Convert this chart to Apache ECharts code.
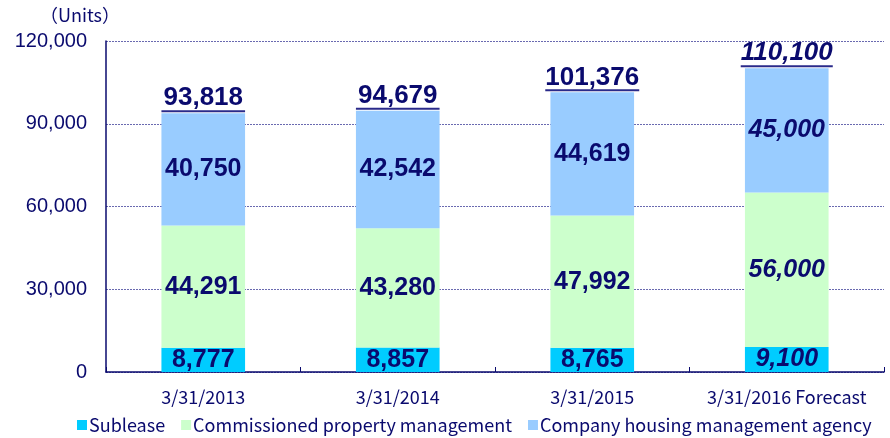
<!DOCTYPE html>
<html><head><meta charset="utf-8">
<script src="https://cdn.jsdelivr.net/npm/echarts@6/dist/echarts.min.js"></script>
<style>html,body{margin:0;padding:0;background:#fff}#c{width:890px;height:438px}</style>
</head><body><div id="c"></div>
<script>
const categories = ['3/31/2013', '3/31/2014', '3/31/2015', '3/31/2016 Forecast'];
const sublease = [8777, 8857, 8765, 9100];
const commissioned = [44291, 43280, 47992, 56000];
const company = [40750, 42542, 44619, 45000];
const totals = [93818, 94679, 101376, 110100];
const forecastIndex = 3;
const seriesNames = ['Sublease', 'Commissioned property management', 'Company housing management agency'];

const navy = '#0a0a6e';
const fmt = v => v.toLocaleString('en-US');
const chart = echarts.init(document.getElementById('c'));
const measureCtx = document.createElement('canvas').getContext('2d');
const jp = '"Noto Sans CJK JP", sans-serif';

function seg(name, data, color) {
  return {
    name, type: 'bar', stack: 'a', barWidth: '43%',
    itemStyle: { color },
    data: data.map((v, i) => ({
      value: v,
      label: { fontStyle: i === forecastIndex ? 'italic' : 'normal' }
    })),
    label: {
      show: true, position: 'inside', color: navy, fontSize: 25, fontWeight: 'bold',
      fontFamily: 'Liberation Sans, Arial, sans-serif',
      formatter: p => fmt(p.value)
    }
  };
}

chart.setOption({
  animation: false,
  grid: { left: 106, right: 6, top: 41, bottom: 66 },
  graphic: [{ type: 'text', left: 40, top: 6, style: { text: '（Units）', fill: navy, font: '18px ' + jp } }],
  legend: {
    bottom: -1, left: 72, itemWidth: 10, itemHeight: 10, itemGap: 16,
    icon: 'rect',
    textStyle: { color: navy, fontSize: 18, fontFamily: jp, padding: [0, 0, 0, -3] },
    data: seriesNames
  },
  xAxis: {
    type: 'category', data: categories,
    axisLine: { lineStyle: { color: navy, width: 1.5 } },
    axisTick: { show: true, inside: true, length: 5, lineStyle: { color: navy } },
    axisLabel: { color: navy, fontSize: 18, margin: 16, interval: 0, fontFamily: jp }
  },
  yAxis: {
    type: 'value', min: 0, max: 120000, interval: 30000,
    axisLine: { show: true, lineStyle: { color: navy, width: 1.5 } },
    axisTick: { show: false },
    axisLabel: { color: navy, fontSize: 20, margin: 19, fontFamily: 'Liberation Sans, Arial, sans-serif', formatter: v => fmt(v) },
    splitLine: { lineStyle: { color: '#6a6ab0', type: [2, 1], width: 1 } }
  },
  series: [
    seg(seriesNames[0], sublease, '#00ccff'),
    seg(seriesNames[1], commissioned, '#ccffcc'),
    seg(seriesNames[2], company, '#99ccff'),
    {
      type: 'custom', name: 'total', z: 10,
      data: totals.map((t, i) => [i, t]),
      renderItem: (params, api) => {
        const i = api.value(0);
        const pt = api.coord([i, api.value(1)]);
        const font = (i === forecastIndex ? 'italic ' : '') + 'bold 26px "Liberation Sans", Arial, sans-serif';
        const txt = fmt(api.value(1));
        measureCtx.font = font;
        const w = measureCtx.measureText(txt).width;
        const bw = api.size([1, 0])[0] * 0.43;
        const x1 = Math.min(pt[0] - w / 2, pt[0] - bw / 2);
        const x2 = Math.max(pt[0] + w / 2, pt[0] + bw / 2);
        return {
          type: 'group',
          children: [
            { type: 'text', style: { text: txt, x: pt[0], y: pt[1] - 2, align: 'center', verticalAlign: 'bottom', fill: navy, font } },
            { type: 'line', shape: { x1, y1: pt[1] - 2, x2, y2: pt[1] - 2 }, style: { stroke: '#2a2a8a', lineWidth: 2 } }
          ]
        };
      }
    }
  ]
});
</script></body></html>
